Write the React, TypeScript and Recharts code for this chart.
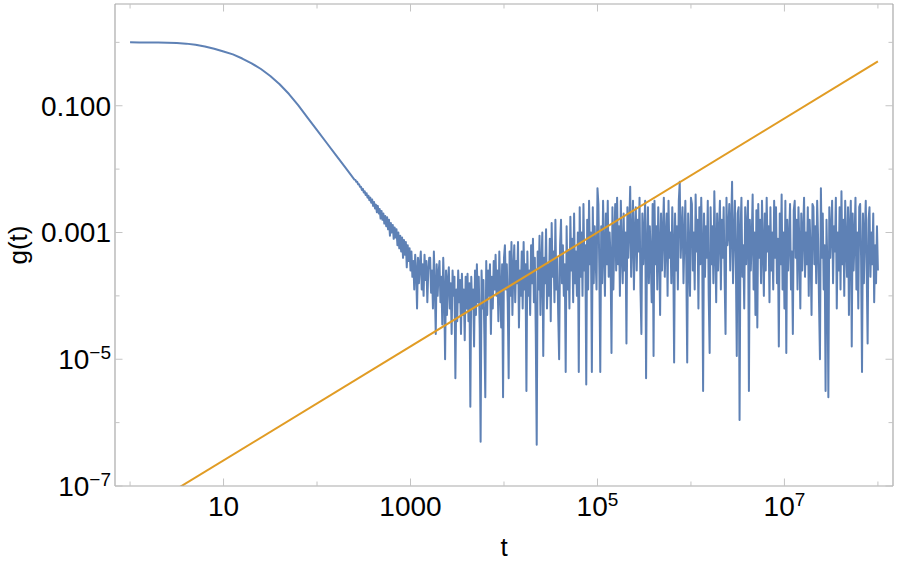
import { Line, LineChart, XAxis, YAxis } from "recharts"

// smooth decay, log10(t) vs log10(g)
const smoothLogT = [0, 0.1, 0.2, 0.3, 0.4, 0.5, 0.6, 0.7, 0.8, 0.9, 1.0, 1.1, 1.2, 1.3, 1.4, 1.5, 1.6, 1.7, 1.8, 1.9, 2.0, 2.1, 2.2, 2.3, 2.4]
const smoothLogG = [0, -0.001, -0.002, -0.004, -0.006, -0.012, -0.02, -0.038, -0.065, -0.1, -0.145, -0.19, -0.255, -0.33, -0.42, -0.53, -0.66, -0.815, -0.995, -1.19, -1.385, -1.58, -1.775, -1.97, -2.165]

// noisy tail, sampled every 0.01 decade from log10(t) = 2.41 to 8.00
const noisyFirstLogT = 241 // hundredths of a decade
const noisyLogG = [
  -2.17, -2.2, -2.2, -2.24, -2.24, -2.28, -2.28, -2.33, -2.31, -2.37,
  -2.35, -2.41, -2.38, -2.45, -2.42, -2.49, -2.45, -2.53, -2.48, -2.58,
  -2.52, -2.62, -2.56, -2.68, -2.58, -2.7, -2.63, -2.78, -2.66, -2.8,
  -2.7, -2.86, -2.74, -2.9, -2.76, -2.95, -2.8, -3.05, -2.85, -3.0,
  -2.88, -3.1, -2.92, -3.08, -2.95, -3.2, -3.0, -3.25, -3.05, -3.3,
  -3.08, -3.4, -3.12, -3.35, -3.15, -3.55, -3.2, -3.45, -3.25, -3.6,
  -3.3, -3.7, -3.45, -3.9, -3.35, -3.6, -4.2, -3.4, -3.8, -3.5,
  -3.3, -3.9, -3.5, -4.0, -3.35, -3.75, -3.45, -4.1, -3.6, -3.4,
  -3.4, -3.95, -3.6, -4.2, -3.3, -3.85, -4.6, -3.5, -4.0, -3.65,
  -3.45, -4.1, -3.7, -4.45, -3.4, -3.9, -5.0, -3.6, -4.3, -3.75,
  -3.55, -4.2, -3.8, -4.6, -3.6, -4.0, -3.7, -5.3, -3.9, -4.4,
  -3.6, -4.1, -3.75, -4.6, -3.65, -4.3, -3.9, -4.7, -3.7, -4.2,
  -3.65, -4.4, -3.8, -5.75, -3.7, -4.2, -3.9, -4.8, -3.6, -4.3,
  -3.5, -4.1, -3.7, -4.5, -6.3, -3.6, -4.2, -3.75, -4.6, -5.6,
  -3.45, -4.3, -3.6, -4.0, -3.5, -4.6, -3.7, -4.2, -3.45, -3.9,
  -3.35, -4.0, -3.6, -4.4, -3.3, -3.9, -4.5, -3.5, -5.6, -3.4,
  -3.2, -3.9, -3.5, -4.1, -5.3, -3.3, -4.0, -3.15, -4.3, -3.6,
  -3.2, -4.1, -3.45, -3.8, -3.15, -4.5, -3.6, -4.0, -3.3, -4.2,
  -3.15, -3.9, -3.5, -5.5, -3.3, -4.0, -3.6, -4.3, -3.2, -3.8,
  -3.1, -4.1, -3.4, -4.6, -6.35, -3.3, -3.9, -3.05, -4.3, -3.5,
  -3.0, -4.95, -3.4, -3.8, -2.95, -4.2, -3.5, -4.0, -3.1, -4.4,
  -2.85, -3.7, -3.3, -4.1, -2.8, -3.9, -3.4, -4.3, -5.0, -3.2,
  -2.8, -3.8, -3.2, -4.0, -3.5, -5.2, -2.9, -3.9, -3.3, -4.2,
  -2.75, -3.6, -3.1, -4.1, -2.7, -3.8, -3.3, -4.0, -3.0, -5.2,
  -2.6, -3.7, -3.0, -4.0, -2.55, -3.6, -3.2, -5.4, -2.8, -3.9,
  -2.5, -3.5, -3.0, -5.2, -2.6, -3.8, -2.9, -3.4, -3.9, -2.3,
  -2.55, -3.6, -5.2, -2.9, -3.8, -2.5, -3.3, -4.0, -2.7, -3.5,
  -2.5, -3.7, -3.0, -3.4, -4.9, -2.6, -3.9, -3.1, -2.55, -3.6,
  -2.45, -3.5, -2.9, -4.0, -2.5, -3.3, -3.8, -2.7, -3.6, -3.0,
  -4.75, -2.6, -3.4, -2.9, -2.28, -3.7, -3.1, -2.5, -3.9, -3.0,
  -2.6, -3.6, -2.8, -3.3, -2.45, -3.9, -4.6, -2.7, -3.5, -3.0,
  -2.5, -5.3, -3.2, -2.6, -3.8, -2.9, -3.4, -4.1, -2.55, -4.95,
  -2.5, -3.5, -2.9, -3.9, -2.6, -3.2, -4.3, -2.7, -3.6, -3.0,
  -2.45, -3.7, -3.1, -2.7, -4.0, -2.5, -3.4, -3.0, -3.8, -2.6,
  -3.2, -5.05, -2.7, -3.6, -2.9, -3.9, -2.5, -2.2, -3.4, -3.0,
  -2.6, -3.8, -3.1, -2.5, -3.5, -5.05, -2.7, -3.3, -4.0, -2.45,
  -2.55, -3.6, -3.0, -3.9, -2.4, -3.3, -2.8, -4.2, -2.6, -3.5,
  -2.45, -3.2, -5.5, -2.7, -3.7, -2.9, -3.4, -2.5, -4.0, -4.9,
  -2.6, -3.5, -2.9, -3.8, -2.35, -3.2, -4.1, -2.7, -3.6, -3.0,
  -2.5, -3.9, -2.8, -3.4, -2.6, -3.7, -4.6, -2.45, -3.2, -3.0,
  -2.55, -3.6, -2.9, -2.2, -3.8, -3.1, -2.5, -3.4, -4.95, -2.7,
  -2.6, -5.96, -3.0, -2.45, -3.7, -3.2, -4.2, -2.6, -3.5, -2.9,
  -2.5, -5.5, -2.8, -3.6, -3.1, -2.4, -3.9, -3.0, -4.3, -2.65,
  -4.5, -2.55, -3.4, -2.8, -3.8, -2.5, -3.2, -4.0, -2.7, -3.6,
  -2.45, -3.3, -2.9, -4.1, -2.6, -3.6, -3.0, -3.9, -2.5, -3.4,
  -2.6, -3.8, -3.1, -4.8, -2.7, -3.5, -2.4, -3.9, -3.0, -4.2,
  -2.5, -4.9, -2.8, -3.6, -3.1, -2.55, -3.9, -3.3, -4.6, -2.65,
  -2.5, -3.4, -2.8, -3.9, -2.6, -3.2, -4.2, -2.7, -3.6, -3.0,
  -2.45, -3.7, -3.0, -3.5, -2.6, -4.0, -2.8, -3.3, -4.3, -2.55,
  -2.6, -3.5, -2.9, -3.8, -2.5, -3.1, -4.1, -5.0, -2.3, -3.4,
  -2.7, -3.9, -3.2, -5.5, -2.8, -3.6, -5.6, -2.6, -3.4, -3.0,
  -2.5, -3.8, -2.9, -3.3, -2.45, -4.2, -3.0, -3.6, -2.6, -3.9,
  -2.35, -3.5, -2.8, -4.0, -2.5, -3.2, -3.7, -2.6, -4.3, -2.9,
  -2.5, -4.8, -2.7, -3.6, -3.1, -2.45, -3.9, -3.0, -4.2, -2.6,
  -2.55, -3.4, -5.2, -2.7, -3.8, -3.0, -2.5, -3.6, -4.75, -2.8,
  -2.6, -3.7, -3.0, -3.5, -2.7, -4.1, -3.2, -3.8, -2.9, -3.6,
]

// straight reference line (power law), its two end points
const fitT = [1, 1e8]
const fitG = [3.2e-8, 0.5]

const xTicks = [1, 10, 100, 1000, 1e4, 1e5, 1e6, 1e7, 1e8]
const xPlainLabels = [10, 1000]
const xPowerLabels = [1e5, 1e7]
const yTicks = [1e-7, 1e-6, 1e-5, 1e-4, 1e-3, 1e-2, 0.1, 1]
const yPlainLabels: [number, string][] = [[0.1, "0.100"], [0.001, "0.001"]]
const yPowerLabels = [1e-5, 1e-7]

const xDomain = [0.69, 1.45e8]
const yDomain = [1e-7, 4.03]

const BLUE = "#5E81B5"
const ORANGE = "#E19C24"
const FRAME = "#a9a9a9"
const TICK = "#c4c4c4"
const FONT = "'Liberation Sans', Arial, Helvetica, sans-serif"

const mainData = [
  ...smoothLogT.map((lt, i) => ({ t: 10 ** lt, g: 10 ** smoothLogG[i] })),
  ...noisyLogG.map((lg, i) => ({ t: 10 ** ((noisyFirstLogT + i) / 100), g: 10 ** lg })),
]
const fitData = fitT.map((t, i) => ({ t, g: fitG[i] }))

const MAJOR = 7.5
const MINOR = 4.5

function powerText(v: number) {
  const exp = Math.round(Math.log10(v))
  return (
    <>
      <tspan>10</tspan>
      <tspan dy={-10} fontSize={19}>
        {exp < 0 ? "\u2212" + Math.abs(exp) : String(exp)}
      </tspan>
    </>
  )
}

function xLabel(v: number) {
  if (xPlainLabels.includes(v)) return String(v)
  if (xPowerLabels.includes(v)) return powerText(v)
  return null
}

function yLabel(v: number) {
  const plain = yPlainLabels.find((p) => p[0] === v)
  if (plain) return plain[1]
  if (yPowerLabels.includes(v)) return powerText(v)
  return null
}

const BottomTick = (props: any) => {
  const { x, y, payload } = props
  const label = xLabel(payload.value)
  return (
    <g>
      <line x1={x} x2={x} y1={y} y2={y - (label ? MAJOR : MINOR)} stroke={TICK} strokeWidth={1} />
      {label && (
        <text x={x} y={y + 30} textAnchor="middle" fontSize={28} fontFamily={FONT} fill="#000">
          {label}
        </text>
      )}
    </g>
  )
}

const TopTick = (props: any) => {
  const { x, y, payload } = props
  const major = xLabel(payload.value) !== null
  return <line x1={x} x2={x} y1={y} y2={y + (major ? MAJOR : MINOR)} stroke={TICK} strokeWidth={1} />
}

const LeftTick = (props: any) => {
  const { x, y, payload } = props
  const label = yLabel(payload.value)
  return (
    <g>
      <line x1={x} x2={x + (label ? MAJOR : MINOR)} y1={y} y2={y} stroke={TICK} strokeWidth={1} />
      {label && (
        <text x={x - 4} y={y + 10} textAnchor="end" fontSize={28} fontFamily={FONT} fill="#000">
          {label}
        </text>
      )}
    </g>
  )
}

const RightTick = (props: any) => {
  const { x, y, payload } = props
  const major = yLabel(payload.value) !== null
  return <line x1={x} x2={x - (major ? MAJOR : MINOR)} y1={y} y2={y} stroke={TICK} strokeWidth={1} />
}

export default function App() {
  return (
    <div style={{ position: "absolute", left: 0, top: 0, background: "#fff" }}>
      <LineChart width={899} height={565} margin={{ top: 3, right: 5, bottom: 0, left: 0 }}>
        <XAxis
          dataKey="t"
          type="number"
          scale="log"
          domain={xDomain}
          allowDataOverflow
          ticks={xTicks}
          interval={0}
          tickSize={0}
          tickMargin={0}
          tick={BottomTick}
          tickLine={false}
          axisLine={{ stroke: FRAME, strokeWidth: 1.2 }}
          height={79}
          label={{
            content: (p: any) => (
              <text
                x={p.viewBox.x + p.viewBox.width / 2}
                y={p.viewBox.y + 70}
                textAnchor="middle"
                fontSize={26}
                fontFamily={FONT}
                fill="#000"
              >
                t
              </text>
            ),
          }}
        />
        <XAxis
          xAxisId="top"
          orientation="top"
          dataKey="t"
          type="number"
          scale="log"
          domain={xDomain}
          allowDataOverflow
          ticks={xTicks}
          interval={0}
          tickSize={0}
          tickMargin={0}
          tick={TopTick}
          tickLine={false}
          axisLine={{ stroke: FRAME, strokeWidth: 1.2 }}
          height={1}
        />
        <YAxis
          type="number"
          scale="log"
          domain={yDomain}
          allowDataOverflow
          ticks={yTicks}
          interval={0}
          tickSize={0}
          tickMargin={0}
          tick={LeftTick}
          tickLine={false}
          axisLine={{ stroke: FRAME, strokeWidth: 1.2 }}
          width={115}
          label={{
            content: (p: any) => {
              const cx = p.viewBox.x + 27
              const cy = p.viewBox.y + p.viewBox.height / 2
              return (
                <text
                  x={cx}
                  y={cy}
                  transform={`rotate(-90, ${cx}, ${cy})`}
                  textAnchor="middle"
                  fontSize={26}
                  fontFamily={FONT}
                  fill="#000"
                >
                  g(t)
                </text>
              )
            },
          }}
        />
        <YAxis
          yAxisId="right"
          orientation="right"
          type="number"
          scale="log"
          domain={yDomain}
          allowDataOverflow
          ticks={yTicks}
          interval={0}
          tickSize={0}
          tickMargin={0}
          tick={RightTick}
          tickLine={false}
          axisLine={{ stroke: FRAME, strokeWidth: 1.2 }}
          width={1}
        />
        <Line
          data={mainData}
          dataKey="g"
          type="linear"
          stroke={BLUE}
          strokeWidth={2}
          strokeLinejoin="round"
          dot={false}
          isAnimationActive={false}
        />
        <Line
          data={fitData}
          dataKey="g"
          type="linear"
          stroke={ORANGE}
          strokeWidth={2}
          dot={false}
          isAnimationActive={false}
        />
      </LineChart>
    </div>
  )
}
